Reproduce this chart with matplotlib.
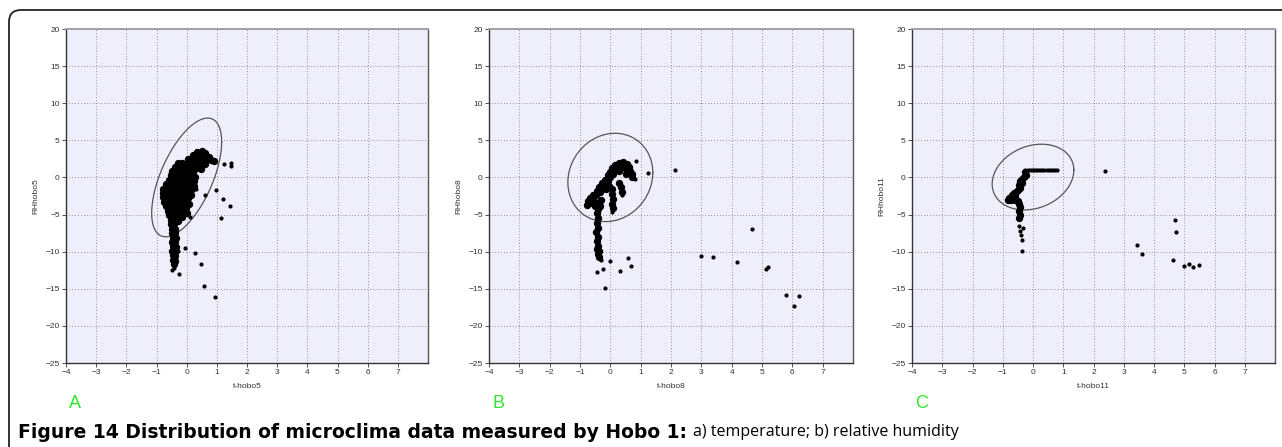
import numpy as np
import matplotlib
matplotlib.use("Agg")
import matplotlib.pyplot as plt
from matplotlib.patches import FancyBboxPatch
from matplotlib.transforms import IdentityTransform

plt.rcParams["font.family"] = ["Liberation Sans", "DejaVu Sans"]

W, H = 1282, 447
x_ticks = list(range(-4, 8))
y_ticks = list(range(-25, 21, 5))
x_names = ["t-hobo5", "t-hobo8", "t-hobo11"]
y_names = ["RHhobo5", "RHhobo8", "RHhobo11"]
tags = ["A", "B", "C"]

# dense clouds (approx.)
a_cloud = [(0.35, 3.4), (0.5, 3.5), (0.6, 3.3),
           (0.2, 3.0), (0.35, 3.0), (0.5, 3.0), (0.65, 2.9), (0.75, 2.7),
           (0.05, 2.5), (0.2, 2.5), (0.35, 2.5), (0.5, 2.5), (0.65, 2.4), (0.8, 2.4), (0.92, 2.2),
           (-0.3, 1.9), (-0.15, 2.0), (0.0, 2.0), (0.15, 2.0), (0.3, 2.0), (0.45, 1.9), (0.6, 1.8),
           (-0.4, 1.4), (-0.25, 1.5), (-0.1, 1.5), (0.05, 1.5), (0.2, 1.4), (0.35, 1.3), (0.48, 1.2),
           (-0.48, 0.9), (-0.35, 0.9), (-0.2, 0.9), (-0.05, 0.9), (0.1, 0.9), (0.22, 0.8),
           (-0.52, 0.3), (-0.4, 0.3), (-0.25, 0.3), (-0.1, 0.3), (0.05, 0.3), (0.2, 0.3), (0.28, 0.1),
           (-0.58, -0.3), (-0.45, -0.3), (-0.3, -0.3), (-0.15, -0.3), (0.0, -0.3), (0.15, -0.3), (0.25, -0.5),
           (-0.7, -0.9), (-0.58, -0.9), (-0.45, -0.9), (-0.3, -0.9), (-0.15, -0.9), (0.0, -0.9), (0.15, -0.9), (0.25, -1.1),
           (-0.78, -1.5), (-0.65, -1.5), (-0.52, -1.5), (-0.4, -1.5), (-0.25, -1.5), (-0.1, -1.5), (0.05, -1.5), (0.18, -1.6),
           (-0.78, -2.1), (-0.65, -2.1), (-0.52, -2.1), (-0.4, -2.1), (-0.25, -2.1), (-0.1, -2.1), (0.05, -2.1), (0.15, -2.3),
           (-0.78, -2.7), (-0.65, -2.7), (-0.52, -2.7), (-0.4, -2.7), (-0.25, -2.7), (-0.1, -2.7), (0.05, -2.8),
           (-0.75, -3.3), (-0.62, -3.3), (-0.5, -3.3), (-0.35, -3.3), (-0.2, -3.3), (-0.05, -3.4), (0.08, -3.6),
           (-0.7, -3.9), (-0.58, -3.9), (-0.45, -3.9), (-0.3, -3.9), (-0.15, -3.9), (-0.02, -4.1),
           (-0.62, -4.5), (-0.5, -4.5), (-0.35, -4.5), (-0.2, -4.6), (0.02, -4.8),
           (-0.58, -5.1), (-0.45, -5.1), (-0.3, -5.1), (-0.15, -5.3),
           (-0.52, -5.7), (-0.4, -5.7), (-0.3, -5.9),
           (-0.52, -6.3), (-0.42, -6.3), (-0.48, -6.9), (-0.38, -6.9),
           (-0.5, -7.5), (-0.4, -7.5), (-0.46, -8.1), (-0.36, -8.2),
           (-0.48, -8.7), (-0.4, -8.7), (-0.44, -9.3), (-0.36, -9.4),
           (-0.48, -9.9), (-0.38, -10.0), (-0.44, -10.5), (-0.38, -10.6),
           (-0.46, -11.1), (-0.4, -11.2), (-0.42, -11.6)]
a_single = [(1.25, 1.8), (1.48, 2.0), (1.48, 1.6), (0.98, -1.7), (0.62, -2.4), (0.32, -1.6),
            (1.19, -2.95), (1.44, -3.8), (1.13, -5.4), (0.12, -5.3), (-0.05, -9.55),
            (0.29, -10.15), (-0.3, -9.9), (0.46, -11.6), (0.57, -14.6), (0.95, -16.1),
            (-0.25, -13.06), (-0.47, -12.5), (-0.42, -12.2)]

b_cloud = [(-0.78, -3.7), (-0.72, -3.2), (-0.62, -3.5), (-0.68, -2.8), (-0.58, -2.9), (-0.52, -3.8),
           (-0.45, -3.4), (-0.58, -2.3), (-0.48, -2.4), (-0.45, -1.8), (-0.35, -2.0), (-0.38, -1.3),
           (-0.28, -1.5), (-0.28, -0.8), (-0.18, -1.0), (-0.18, -0.3), (-0.08, -0.5), (-0.08, 0.3),
           (0.0, 0.0), (0.0, 0.8), (0.1, 0.5), (0.07, 1.3), (0.15, 1.0), (0.17, 1.7), (0.25, 1.4),
           (0.27, 2.0), (0.35, 1.7), (0.42, 2.1), (0.45, 1.6), (0.55, 1.8), (0.6, 1.4), (0.65, 0.9),
           (0.7, 0.5), (0.72, 0.1), (0.5, 1.1), (0.52, 0.5), (0.3, 0.9),
           (-0.42, -4.2), (-0.35, -3.9), (-0.32, -3.0), (-0.15, -1.6), (-0.05, -1.2),
           (0.05, -1.5), (0.05, -2.2), (0.08, -2.9), (0.05, -3.6), (0.08, -4.1),
           (0.3, -0.7), (0.35, -1.3), (0.38, -1.9),
           (-0.45, -4.8), (-0.42, -5.4), (-0.45, -6.1), (-0.42, -6.8), (-0.46, -7.4), (-0.4, -8.0),
           (-0.44, -8.6), (-0.4, -9.2), (-0.44, -9.6), (-0.36, -9.9), (-0.42, -10.3),
           (-0.36, -10.7)]
b_single = [(0.84, 2.17), (1.25, 0.55), (2.13, 1.04), (2.98, -10.6), (3.37, -10.7), (4.18, -11.4),
            (4.66, -7.0), (5.12, -12.4), (5.21, -12.0), (5.78, -15.9), (6.07, -17.3), (6.21, -16.0),
            (-0.01, -11.3), (0.58, -10.8), (0.69, -11.9), (0.32, -12.6), (-0.23, -12.4),
            (-0.45, -12.7), (-0.19, -14.9), (0.05, -4.6), (0.4, -2.3), (0.8, -0.2),
            (-0.3, -11.1), (-0.35, -11.0)]

c_cloud = [(-0.25, 0.7), (-0.22, 0.3), (-0.3, 0.1), (-0.35, -0.2), (-0.42, -0.5), (-0.35, -0.7),
           (-0.45, -1.0), (-0.42, -1.4), (-0.5, -1.7), (-0.55, -1.9), (-0.63, -2.1), (-0.68, -2.4),
           (-0.58, -2.5), (-0.78, -2.8), (-0.84, -3.0), (-0.72, -3.1), (-0.6, -3.0), (-0.5, -3.2),
           (-0.45, -3.6), (-0.42, -4.0), (-0.45, -4.5), (-0.42, -5.0), (-0.45, -5.4)]
c_bar = [(-0.25, 1.0), (-0.18, 1.0), (-0.11, 1.0), (-0.04, 1.0), (0.03, 1.0), (0.1, 1.0),
         (0.17, 1.0), (0.24, 1.0), (0.31, 1.0), (0.38, 1.0), (0.45, 1.0), (0.52, 1.0),
         (0.59, 1.0), (0.66, 1.0), (0.73, 1.0), (0.8, 1.0)]
c_single = [(-0.45, -6.55), (-0.32, -6.86), (-0.42, -7.2), (-0.4, -7.7), (-0.37, -8.4), (-0.36, -9.9),
            (2.38, 0.9), (3.44, -9.1), (3.6, -10.3), (4.71, -5.74), (4.73, -7.4), (4.62, -11.1),
            (4.98, -11.9), (5.15, -11.7), (5.3, -12.1), (5.49, -11.8)]

# confidence ellipses: centre x, centre y, sd x, sd y, correlation
ellipses = [(0.0, 0.0, 1.16, 8.0, 0.6), (0.0, 0.0, 1.4, 5.95, 0.11), (0.0, 0.05, 1.35, 4.43, 0.21)]

clouds = [a_cloud, b_cloud, c_cloud]
singles = [a_single, b_single, c_single + c_bar]
lefts = [66, 489, 912]
widths = [362, 364, 363]

fig = plt.figure(figsize=(W / 100, H / 100), dpi=100)
fig.add_artist(FancyBboxPatch((9, -30), 1320, 467, boxstyle="round,pad=0,rounding_size=12",
                              transform=IdentityTransform(), fc="none", ec="#222222", lw=1.3))

for i in range(3):
    ax = fig.add_axes([lefts[i] / W, 84 / H, widths[i] / W, 334 / H])
    ax.set_facecolor("#EFEFFB")
    ax.set_xlim(-4, 8); ax.set_ylim(-25, 20)
    ax.set_xticks(x_ticks); ax.set_yticks(y_ticks)
    ax.tick_params(labelsize=6, length=3, width=0.6, pad=1.5, colors="#333333")
    for v in x_ticks[1:]:
        ax.axvline(v, color="#707070", lw=0.6, ls=(0, (1, 2.5)), zorder=0)
    for v in y_ticks[1:-1]:
        ax.axhline(v, color="#707070", lw=0.6, ls=(0, (1, 2.5)), zorder=0)
    for s in ["left", "bottom"]:
        ax.spines[s].set_color("#333333"); ax.spines[s].set_linewidth(1.0)
    ax.spines["top"].set_color("#a0a0a0"); ax.spines["top"].set_linewidth(1.4)
    ax.spines["right"].set_color("#555555"); ax.spines["right"].set_linewidth(1.0)
    ax.set_xlabel(x_names[i], fontsize=6, labelpad=5, color="#333333")
    ax.set_ylabel(y_names[i], fontsize=6, labelpad=4, color="#333333")

    cx, cy, sx, sy, r = ellipses[i]
    t = np.linspace(0, 2 * np.pi, 200)
    ax.plot(cx + sx * np.cos(t), cy + sy * (r * np.cos(t) + np.sqrt(1 - r * r) * np.sin(t)),
            color="#555555", lw=0.9)

    px, py = zip(*clouds[i])
    ax.scatter(px, py, s=28, c="black", linewidths=0, zorder=3)
    px, py = zip(*singles[i])
    ax.scatter(px, py, s=9, c="black", linewidths=0, zorder=3)

    fig.text((lefts[i] + 3) / W, 1 - 403 / H, tags[i], color="#2EE62E", fontsize=13,
             ha="left", va="center")

# caption: bold lead-in then regular text
cap1 = fig.text(18 / W, 1 - 432 / H, "Figure 14 Distribution of microclima data measured by Hobo 1:",
                fontsize=13.5, fontweight="bold", family=["DejaVu Sans"],
                ha="left", va="center", color="black")
fig.canvas.draw()
bb = cap1.get_window_extent()
cap1.set_fontsize(13.5 * 668 / bb.width)
fig.canvas.draw()
bb = cap1.get_window_extent()
fig.text((bb.x1 + 6) / W, 1 - 432 / H, "a) temperature; b) relative humidity",
         fontsize=11.5, family=["Open Sans", "DejaVu Sans"], ha="left", va="center", color="black")

fig.savefig("out.png", dpi=100)
